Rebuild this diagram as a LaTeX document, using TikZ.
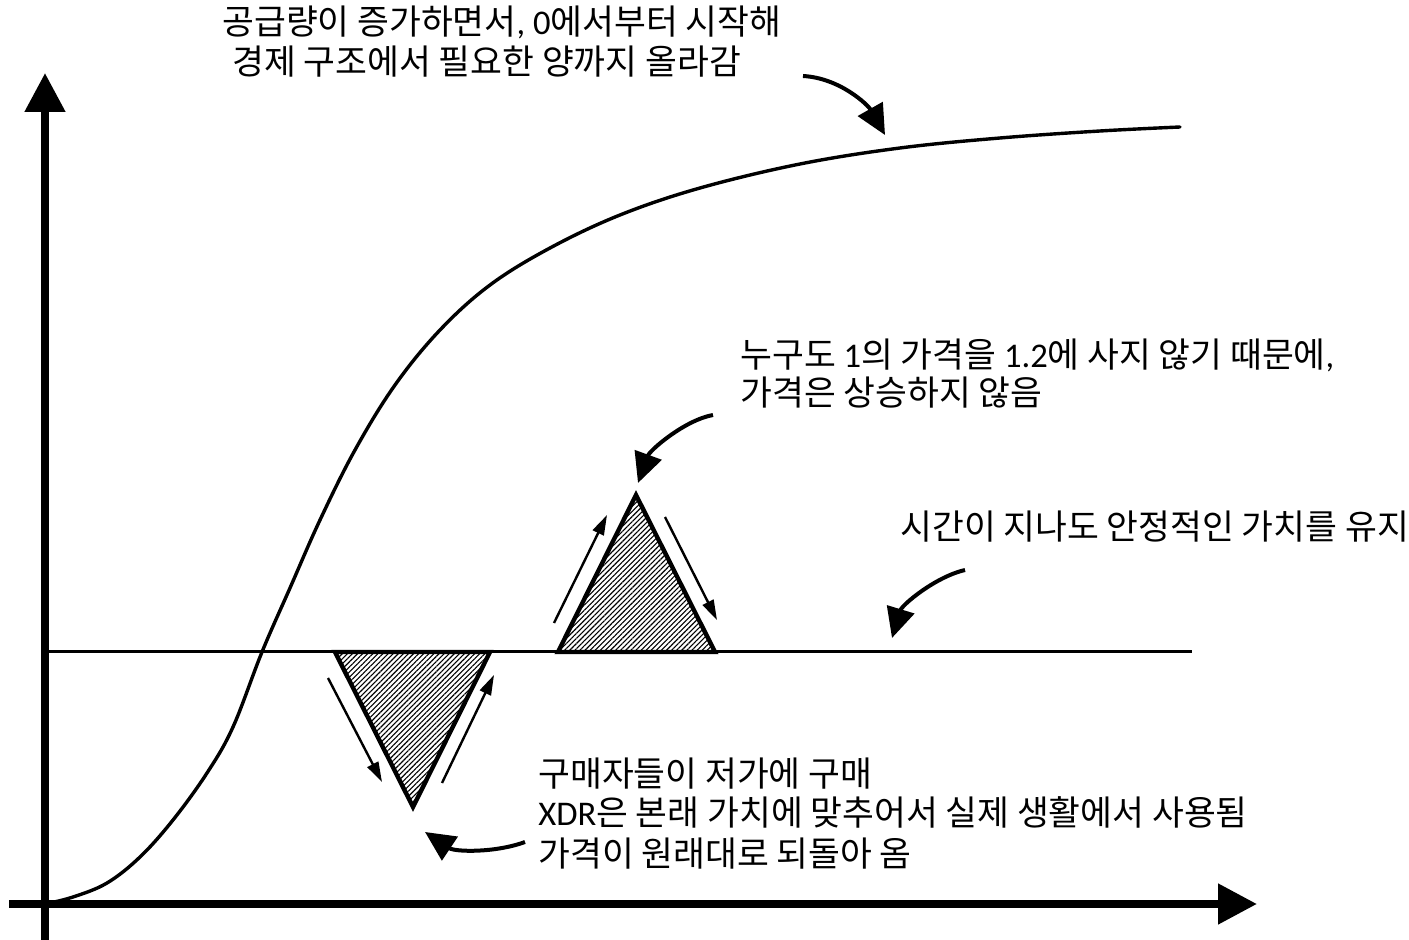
\documentclass[tikz,border=0pt]{standalone}
\usepackage{fontspec}
\setmainfont{Noto Sans CJK KR}
\newfontfamily\lat{Carlito}
\usetikzlibrary{arrows.meta,patterns.meta}
\begin{document}
\begin{tikzpicture}[x=0.5pt,y=-0.5pt,
  axis/.style={line width=4pt,-{Triangle[length=19.5pt,width=19.5pt]}},
  curvearrow/.style={line width=2pt,-{Triangle[length=15pt,width=14pt]}},
  smallarrow/.style={line width=1.2pt,-{Triangle[length=10pt,width=6pt]}},
  hatchtri/.style={line width=2.2pt,pattern={Lines[angle=45,distance=1.8pt,line width=0.55pt]}},
  lbl/.style={anchor=base west,inner sep=0pt,font=\fontsize{17.3pt}{20pt}\selectfont}]
\useasboundingbox (0,0) rectangle (1409,940);

% axes
\coordinate (ybot) at (45,940);
\coordinate (ytop) at (45,73);
\coordinate (xleft) at (9,904);
\coordinate (xright) at (1257,904);
\draw[axis] (ybot) -- (ytop);
\draw[axis] (xleft) -- (xright);

% stable line
\coordinate (hl) at (48,652);
\coordinate (hr) at (1192,652);
\draw[line width=1.5pt] (hl) -- (hr);

% supply curve
\draw[line width=1.7pt,line cap=round] plot[smooth,tension=0.6] coordinates {
 (45,904) (73,897) (107,883) (140,857) (173,820) (207,773) (233,727) (262,652)
 (290,588) (320,520) (355,450) (395,385) (440,330) (490,285) (550,248) (620,215)
 (700,188) (800,164) (900,148) (1000,138) (1100,131) (1180,127)};

% triangles
\coordinate (d1) at (335,652);
\coordinate (d2) at (490,652);
\coordinate (d3) at (413,807);
\draw[hatchtri] (d1) -- (d2) -- (d3) -- cycle;
\coordinate (u1) at (558,652);
\coordinate (u2) at (715,652);
\coordinate (u3) at (636,495);
\draw[hatchtri] (u1) -- (u2) -- (u3) -- cycle;

% small arrows
\coordinate (a1s) at (328,678); \coordinate (a1e) at (382,782);
\coordinate (a2s) at (442,783); \coordinate (a2e) at (494,675);
\coordinate (a3s) at (554,623); \coordinate (a3e) at (607,515);
\coordinate (a4s) at (665,517); \coordinate (a4e) at (717,620);
\draw[smallarrow] (a1s) -- (a1e);
\draw[smallarrow] (a2s) -- (a2e);
\draw[smallarrow] (a3s) -- (a3e);
\draw[smallarrow] (a4s) -- (a4e);

% labels
\node[lbl] (t1) at (222,35) {공급량이 증가하면서{\lat ,} {\lat 0}에서부터 시작해};
\node[lbl] (t2) at (232,75) {경제 구조에서 필요한 양까지 올라감};
\node[lbl] (t3) at (740,368) {누구도 {\lat 1}의 가격을 {\lat 1.2}에 사지 않기 때문에{\lat ,}};
\node[lbl] (t4) at (740,406) {가격은 상승하지 않음};
\node[lbl] (t5) at (900,540) {시간이 지나도 안정적인 가치를 유지};
\node[lbl] (t6) at (538,786) {구매자들이 저가에 구매};
\node[lbl] (t7) at (538,826) {{\lat XDR}은 본래 가치에 맞추어서 실제 생활에서 사용됨};
\node[lbl] (t8) at (538,866) {가격이 원래대로 되돌아 옴};

% curved pointer arrows
\coordinate (c1s) at (803,76); \coordinate (c1e) at (885,135);
\draw[curvearrow] (c1s) .. controls (840,78) and (868,105) .. (c1e);
\coordinate (c2s) at (713,415); \coordinate (c2e) at (638,483);
\draw[curvearrow] (c2s) .. controls (685,420) and (650,450) .. (c2e);
\coordinate (c3s) at (965,570); \coordinate (c3e) at (892,638);
\draw[curvearrow] (c3s) .. controls (935,577) and (902,605) .. (c3e);
\coordinate (c4s) at (525,842); \coordinate (c4e) at (425,832);
\draw[curvearrow] (c4s) .. controls (495,853) and (455,852) .. (c4e);
\end{tikzpicture}
\end{document}
